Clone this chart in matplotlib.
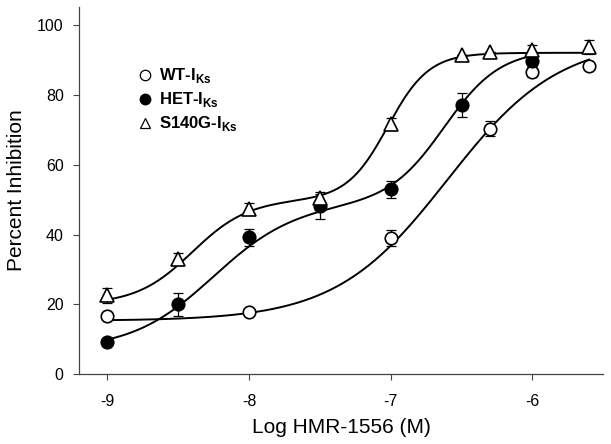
import matplotlib
matplotlib.use('Agg')
import matplotlib.pyplot as plt
from matplotlib.lines import Line2D
import numpy as np

plt.rcParams['font.family'] = ['Liberation Sans', 'DejaVu Sans']
plt.rcParams['mathtext.fontset'] = 'custom'
plt.rcParams['mathtext.rm'] = 'Liberation Sans'
plt.rcParams['mathtext.bf'] = 'Liberation Sans:bold'

# measured points (log M, % inhibition, SEM)
wt_x = [-9.0, -8.0, -7.0, -6.3, -6.0, -5.6]
wt_y = [16.6, 17.8, 39.0, 70.3, 86.5, 88.1]
wt_err = [0.0, 0.0, 2.2, 2.1, 1.3, 0.0]

het_x = [-9.0, -8.5, -8.0, -7.5, -7.0, -6.5, -6.0]
het_y = [9.3, 20.0, 39.2, 48.1, 52.9, 77.1, 89.6]
het_err = [0.0, 3.3, 2.4, 3.6, 2.4, 3.4, 1.5]

s140g_x = [-9.0, -8.5, -8.0, -7.5, -7.0, -6.5, -6.3, -6.0, -5.6]
s140g_y = [22.6, 32.9, 47.3, 50.5, 71.6, 91.4, 92.1, 92.8, 93.6]
s140g_err = [2.1, 1.7, 1.7, 1.6, 1.8, 0.0, 0.0, 1.5, 2.0]

# fitted Hill parameters: bottom, [(amplitude, logIC50, hill), ...], x range
wt_fit = (15.3, [(80.7, -6.6, 1.1)], (-9.0, -5.6))
het_fit = (7.0, [(42.0, -8.25, 1.5), (44.0, -6.62, 2.2)], (-9.0, -6.0))
s140g_fit = (20.0, [(30.0, -8.4, 2.2), (42.0, -7.02, 3.0)], (-9.0, -5.6))


def hill_curve(fit):
    bottom, phases, (x0, x1) = fit
    xs = np.linspace(x0, x1, 300)
    ys = np.full_like(xs, bottom)
    for amp, c, n in phases:
        ys += amp / (1 + 10 ** ((c - xs) * n))
    return xs, ys


fig = plt.figure(figsize=(6.11, 4.44), dpi=100)
ax = fig.add_axes([0.1293, 0.157, 0.858, 0.828])

for fit in (wt_fit, het_fit, s140g_fit):
    xs, ys = hill_curve(fit)
    ax.plot(xs, ys, color='black', lw=1.4, zorder=2)

series = [
    (wt_x, wt_y, wt_err, 'o', 'white'),
    (het_x, het_y, het_err, 'o', 'black'),
    (s140g_x, s140g_y, s140g_err, '^', 'white'),
]
for x, y, e, m, fc in series:
    ax.errorbar(x, y, yerr=e, fmt='none', ecolor='black', elinewidth=0.9,
                capsize=3.5, capthick=0.9, zorder=3)
    ax.plot(x, y, linestyle='none', marker=m, markersize=9 if m == 'o' else 10,
            markerfacecolor=fc, markeredgecolor='black', markeredgewidth=1.2, zorder=4)

handles = [
    Line2D([], [], linestyle='none', marker='o', markersize=7.5, markerfacecolor='white',
           markeredgecolor='black', markeredgewidth=0.9),
    Line2D([], [], linestyle='none', marker='o', markersize=7.5, markerfacecolor='black',
           markeredgecolor='black'),
    Line2D([], [], linestyle='none', marker='^', markersize=7.5, markerfacecolor='white',
           markeredgecolor='black', markeredgewidth=0.9),
]
labels = [r'WT-I$_{\mathbf{Ks}}$', r'HET-I$_{\mathbf{Ks}}$', r'S140G-I$_{\mathbf{Ks}}$']
leg = ax.legend(handles, labels, loc='upper left', bbox_to_anchor=(0.101, 0.86),
                frameon=False, handlelength=0.6, handletextpad=0.5, labelspacing=0.3,
                borderpad=0, prop={'weight': 'bold', 'size': 12})

ax.set_xlim(-9.2, -5.5)
ax.set_ylim(0, 105.2)
ax.set_xticks([-9, -8, -7, -6])
ax.set_xticklabels(['-9', '-8', '-7', '-6'])
ax.set_yticks([0, 20, 40, 60, 80, 100])
ax.tick_params(direction='out', length=4.5, width=0.8, labelsize=11.5, color='#444444')
ax.tick_params(axis='x', pad=10)
ax.tick_params(axis='y', pad=6.5)
for side in ('top', 'right'):
    ax.spines[side].set_visible(False)
for side in ('left', 'bottom'):
    ax.spines[side].set_color('#444444')
    ax.spines[side].set_linewidth(0.9)

ax.set_xlabel('Log HMR-1556 (M)', fontsize=15, labelpad=6)
ax.set_ylabel('Percent Inhibition', fontsize=15, labelpad=8)

fig.savefig('out.png', dpi=100)
